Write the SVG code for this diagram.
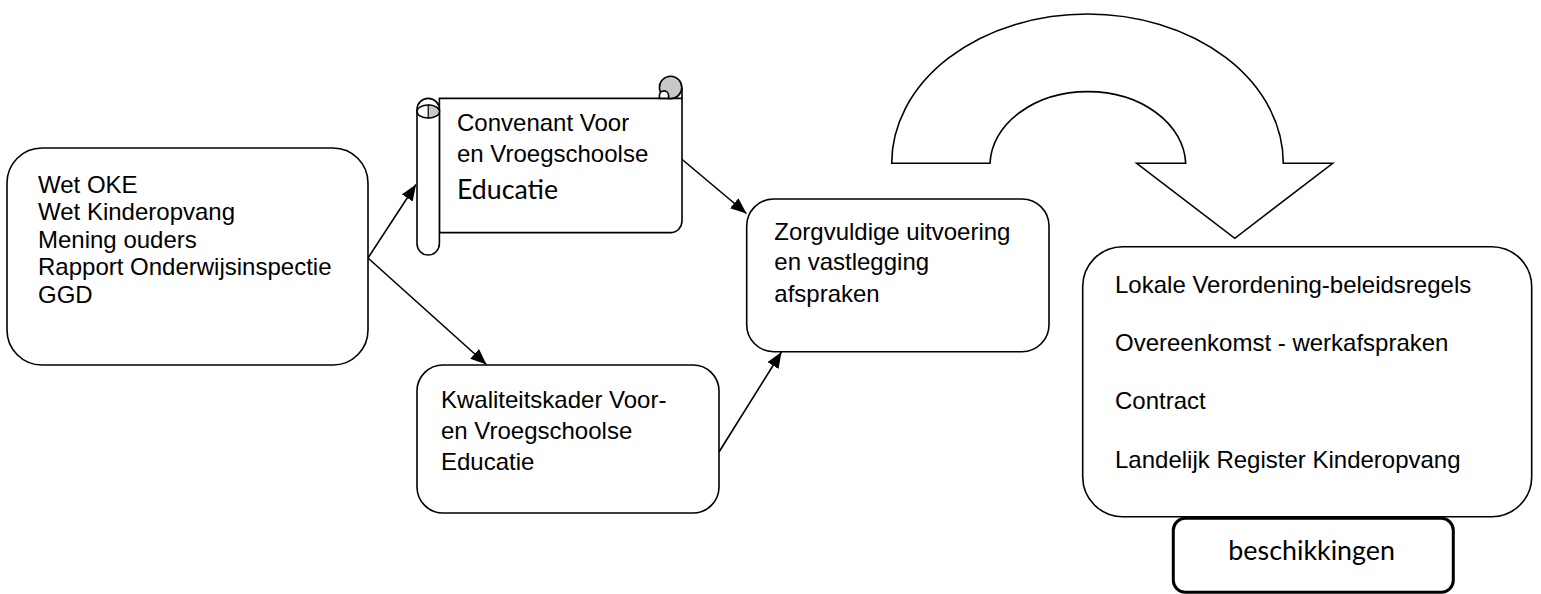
<svg xmlns="http://www.w3.org/2000/svg" width="1541" height="594" viewBox="0 0 1541 594">
<style>
.box{fill:#fff;stroke:#000;stroke-width:1.6}
.t{font-family:"Liberation Sans",Arial,sans-serif;font-size:24px;fill:#000}
.c{font-family:Lato,"Open Sans",sans-serif;font-size:27px;fill:#000}
.ln{fill:none;stroke:#000;stroke-width:1.6}
</style>
<defs>
<marker id="ah" markerUnits="userSpaceOnUse" markerWidth="18" markerHeight="14" refX="16" refY="6.5" orient="auto">
<path d="M0,0 L16,6.5 L0,13 z" fill="#000"/>
</marker>
</defs>
<rect width="1541" height="594" fill="#fff"/>

<g id="connectors">
<line class="ln" x1="368" y1="258" x2="416" y2="184.5" marker-end="url(#ah)"/>
<line class="ln" x1="368" y1="258" x2="486.5" y2="364.5" marker-end="url(#ah)"/>
<line class="ln" x1="681" y1="158.5" x2="746.5" y2="213.5" marker-end="url(#ah)"/>
<line class="ln" x1="719" y1="452" x2="781.5" y2="352" marker-end="url(#ah)"/>
</g>

<g id="sources">
<rect class="box" x="7" y="148" width="361" height="217" rx="35" ry="35"/>
<text class="t" x="38" y="192.5">Wet OKE</text>
<text class="t" x="38" y="220">Wet Kinderopvang</text>
<text class="t" x="38" y="247.5">Mening ouders</text>
<text class="t" x="38" y="275">Rapport Onderwijsinspectie</text>
<text class="t" x="38" y="302.5">GGD</text>
</g>

<g id="convenant">
<path class="box" d="M439.4,98.4 H682 V221 A11.5,11.5 0 0 1 670.5,232.6 H439.4 Z"/>
<circle cx="670.6" cy="87.4" r="11.2" fill="#c8c8c8" stroke="#000" stroke-width="1.6"/>
<path d="M659.4,98.4 V95.5 A4.6,4.6 0 0 1 668.6,95.5 V98.4 Z" fill="#fff" stroke="#000" stroke-width="1.6"/>
<line class="ln" x1="682" y1="87.4" x2="682" y2="99"/>
<path class="box" d="M417,109.6 A11.2,11.2 0 0 1 439.4,109.6 V243.8 A11.2,11.2 0 0 1 417,243.8 Z"/>
<ellipse cx="428.2" cy="111.5" rx="11.2" ry="6.5" fill="#fff" stroke="#000" stroke-width="1.6"/>
<path d="M428.2,105 A11.2,6.5 0 0 1 428.2,118 Z" fill="#c8c8c8" stroke="#000" stroke-width="1.2"/>
<text class="t" x="457" y="131">Convenant Voor</text>
<text class="t" x="457" y="162">en Vroegschoolse</text>
<text class="c" x="457" y="198.5" textLength="101" lengthAdjust="spacingAndGlyphs">Educatie</text>
</g>

<g id="kwaliteitskader">
<rect class="box" x="417" y="365" width="302" height="148" rx="26" ry="26"/>
<text class="t" x="441" y="408">Kwaliteitskader Voor-</text>
<text class="t" x="441" y="439">en Vroegschoolse</text>
<text class="t" x="441" y="470">Educatie</text>
</g>

<g id="zorgvuldige">
<rect class="box" x="746.7" y="199" width="302.3" height="152.7" rx="27" ry="27"/>
<text class="t" x="774.3" y="239.5">Zorgvuldige uitvoering</text>
<text class="t" x="774.3" y="270">en vastlegging</text>
<text class="t" x="774.3" y="301.5">afspraken</text>
</g>

<g id="uturn-arrow">
<path class="box" d="M891.7,163.3 A195.8,149.3 0 0 1 1283.3,163.3 H1332.7 L1234.8,238.3 L1136.7,163.3 H1185.7 A97.9,74 0 0 0 990,163.3 Z"/>
</g>

<g id="regels">
<rect class="box" x="1082.7" y="246.7" width="449" height="270" rx="40" ry="40"/>
<text class="t" x="1115" y="292.7">Lokale Verordening-beleidsregels</text>
<text class="t" x="1115" y="351">Overeenkomst - werkafspraken</text>
<text class="t" x="1115" y="409.3">Contract</text>
<text class="t" x="1115" y="467.7">Landelijk Register Kinderopvang</text>
</g>

<g id="beschikkingen">
<rect x="1173.3" y="518.3" width="280" height="74" rx="12" ry="12" fill="#fff" stroke="#000" stroke-width="3"/>
<text class="c" x="1228.3" y="560" textLength="166.7" lengthAdjust="spacingAndGlyphs">beschikkingen</text>
</g>
</svg>
